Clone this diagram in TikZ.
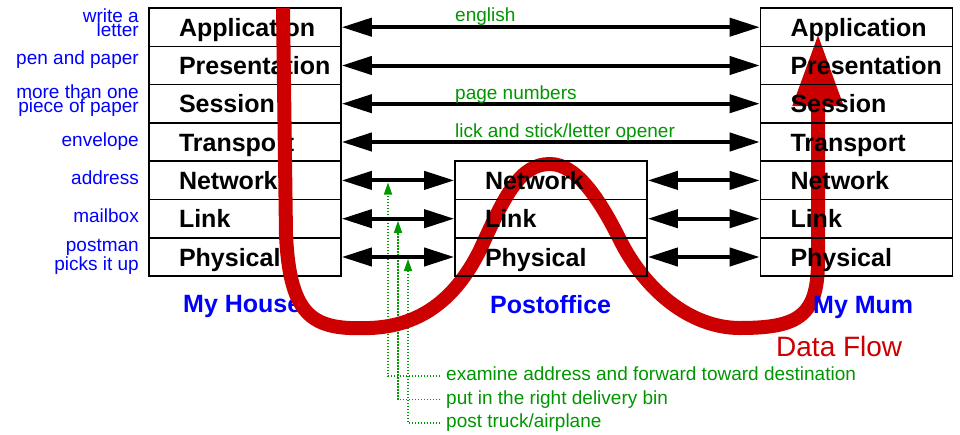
\documentclass[tikz,border=0pt]{standalone}
\usepackage{fontspec}
\setmainfont{Liberation Sans}
\usetikzlibrary{arrows.meta}

\definecolor{pblue}{RGB}{0,0,255}
\definecolor{pgreen}{RGB}{0,150,0}
\definecolor{pred}{RGB}{204,0,0}

\newcommand\layfont{\fontsize{25}{28}\selectfont\bfseries\hyphenpenalty=10000\relax}

\tikzset{
  layer/.style={draw, line width=1.6pt, minimum width=192pt, minimum height=38.3pt,
    text width=132pt, inner xsep=30pt, inner ysep=0pt, align=left,
    text height=18pt, text depth=0pt, font=\layfont},
  note/.style={text=pblue, font=\fontsize{19}{14}\selectfont, inner sep=0pt, align=right},
  say/.style={text=pgreen, font=\fontsize{19}{22}\selectfont, inner sep=0pt},
  tag/.style={say, inner xsep=6pt, text height=9pt, text depth=0pt},
  site/.style={text=pblue, font=\fontsize{25}{28}\selectfont\bfseries, inner sep=0pt},
  arr/.style={line width=4pt, {Triangle[length=30pt,width=18pt]}-{Triangle[length=30pt,width=18pt]}},
  hint/.style={pgreen, line width=1.5pt, dash pattern=on 1.5pt off 1.5pt, -{Triangle[length=12pt,width=8pt]}},
  flow/.style={pred, line width=14pt, line join=round, -{Triangle[length=73pt,width=47pt]}}
}

\begin{document}
\begin{tikzpicture}[x=1pt,y=-1pt]
\useasboundingbox (0,0) rectangle (960,434);
% my house
\node[layer] (1) at (245,27.2) {Application};
\node[layer] (2) at (245,65.5) {Presentation};
\node[layer] (3) at (245,103.7) {Session};
\node[layer] (4) at (245,142) {Transport};
\node[layer] (5) at (245,180.4) {Network};
\node[layer] (6) at (245,218.7) {Link};
\node[layer] (7) at (245,257) {Physical};
\node[note, anchor=base east] (n1) at (139,36) {write a\\letter};
\node[note, anchor=base east] (n2) at (139,64.5) {pen and paper};
\node[note, anchor=base east] (n3) at (139,112.7) {more than one\\piece of paper};
\node[note, anchor=base east] (n4) at (139,146.5) {envelope};
\node[note, anchor=base east] (n5) at (139,184) {address};
\node[note, anchor=base east] (n6) at (139,222.5) {mailbox};
\node[note, anchor=base east] (n7) at (139,270) {postman\\picks it up};
\node[site, anchor=base west] (house) at (183,312.7) {My House};
% what the postoffice does
\node[tag, anchor=west] (e1) at (440,376) {examine address and forward toward destination};
\node[tag, anchor=west] (e2) at (440,399.5) {put in the right delivery bin};
\node[tag, anchor=west] (e3) at (440,423) {post truck/airplane};
\coordinate (t1) at (388,182.5);
\coordinate (t2) at (398,220.8);
\coordinate (t3) at (408,259);
\draw[hint] (e1.west) -| (t1);
\draw[hint] (e2.west) -| (t2);
\draw[hint] (e3.west) -| (t3);
% the letter going round
\draw[flow] (283,8) -- (286,235)
  .. controls (290,320) and (315,330) .. (370,328)
  .. controls (420,326) and (455,300) .. (480,250)
  .. controls (505,195) and (520,164) .. (550,164)
  .. controls (578,164) and (602,204) .. (620,240)
  .. controls (645,290) and (690,328) .. (740,328)
  .. controls (800,328) and (818,315) .. (818,260) -- (818,33);
% postoffice
\node[layer] (8) at (551,180.4) {Network};
\node[layer] (9) at (551,218.7) {Link};
\node[layer] (10) at (551,257) {Physical};
% my mum
\node[layer] (11) at (856.5,27.2) {Application};
\node[layer] (12) at (856.5,65.5) {Presentation};
\node[layer] (13) at (856.5,103.7) {Session};
\node[layer] (14) at (856.5,142) {Transport};
\node[layer] (15) at (856.5,180.4) {Network};
\node[layer] (16) at (856.5,218.7) {Link};
\node[layer] (17) at (856.5,257) {Physical};
\path[draw,arr] (1) -- (11);
\path[draw,arr] (2) -- (12);
\path[draw,arr] (3) -- (13);
\path[draw,arr] (4) -- (14);
\path[draw,arr] (5) -- (8);
\path[draw,arr] (6) -- (9);
\path[draw,arr] (7) -- (10);
\path[draw,arr] (8) -- (15);
\path[draw,arr] (9) -- (16);
\path[draw,arr] (10) -- (17);
\node[say, anchor=base west] (g1) at (455,21) {english};
\node[say, anchor=base west] (g3) at (455,99) {page numbers};
\node[say, anchor=base west] (g4) at (455,137) {lick and stick/letter opener};
\node[site, anchor=base west] (post) at (490,313) {Postoffice};
\node[site, anchor=base west] (mum) at (813,313) {My Mum};
\node[text=pred, font=\fontsize{28}{32}\selectfont, inner sep=0pt, anchor=base west] (data) at (776,356) {Data Flow};
\end{tikzpicture}
\end{document}
